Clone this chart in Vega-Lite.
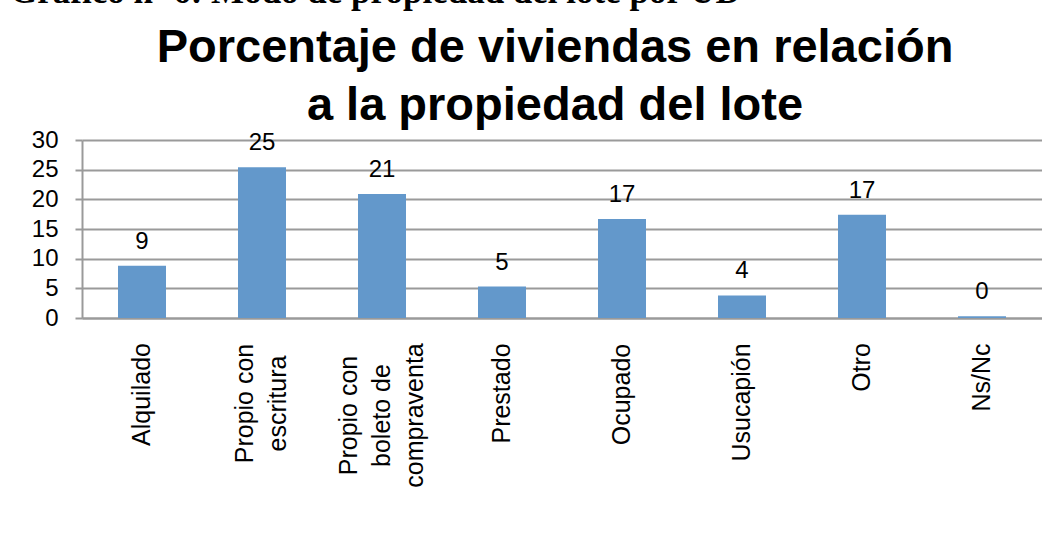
{
  "$schema": "https://vega.github.io/schema/vega-lite/v6.json",
  "background": "white",
  "padding": {"left": 10, "top": -25, "right": 0, "bottom": 0},
  "title": {
    "text": "Gráfico nº 6: Modo de propiedad del lote por UD",
    "anchor": "start",
    "frame": "group",
    "font": "Liberation Serif",
    "fontSize": 35,
    "fontWeight": "bold",
    "color": "black",
    "dx": -72,
    "offset": 14
  },
  "vconcat": [
    {
      "width": 960,
      "height": 178,
      "title": {
        "text": ["Porcentaje de viviendas en relación", "a la propiedad del lote"],
        "anchor": "middle",
        "frame": "group",
        "font": "Liberation Sans",
        "fontSize": 47,
        "fontWeight": "bold",
        "lineHeight": 58,
        "color": "black",
        "dx": -7,
        "offset": -2
      },
      "data": {
        "values": [
          {"categoria": "Alquilado", "porcentaje": 8.8},
          {"categoria": "Propio con escritura", "porcentaje": 25.4},
          {"categoria": "Propio con boleto de compraventa", "porcentaje": 20.9},
          {"categoria": "Prestado", "porcentaje": 5.3},
          {"categoria": "Ocupado", "porcentaje": 16.7},
          {"categoria": "Usucapión", "porcentaje": 3.8},
          {"categoria": "Otro", "porcentaje": 17.4},
          {"categoria": "Ns/Nc", "porcentaje": 0.3}
        ]
      },
      "encoding": {
        "x": {
          "field": "categoria",
          "type": "nominal",
          "sort": null,
          "scale": {"paddingInner": 0.6, "paddingOuter": 0.3},
          "axis": {
            "title": null,
            "labelAngle": -90,
            "labelAlign": "center",
            "labelBaseline": "middle",
            "labelFont": "Liberation Sans",
            "labelFontSize": 25,
            "labelColor": "black",
            "labelLineHeight": 33,
            "labelPadding": {
              "condition": [
                {"test": "datum.value == 'Alquilado'", "value": 76},
                {"test": "datum.value == 'Propio con escritura'", "value": 85},
                {"test": "datum.value == 'Propio con boleto de compraventa'", "value": 97},
                {"test": "datum.value == 'Prestado'", "value": 75},
                {"test": "datum.value == 'Ocupado'", "value": 76},
                {"test": "datum.value == 'Usucapión'", "value": 84},
                {"test": "datum.value == 'Otro'", "value": 49}
              ],
              "value": 59
            },
            "labelLimit": 0,
            "labelOverlap": false,
            "labelOffset": {
              "condition": [
                {"test": "datum.value == 'Propio con escritura'", "value": -17},
                {"test": "datum.value == 'Propio con boleto de compraventa'", "value": -33}
              ],
              "value": 0
            },
            "labelExpr": "datum.label == 'Propio con escritura' ? ['Propio con', 'escritura'] : datum.label == 'Propio con boleto de compraventa' ? ['Propio con', 'boleto de', 'compraventa'] : datum.label",
            "ticks": false,
            "domainColor": "#9a9a9a",
            "domainWidth": 2,
            "grid": false
          }
        },
        "y": {
          "field": "porcentaje",
          "type": "quantitative",
          "scale": {"domain": [0, 30], "nice": false},
          "axis": {
            "title": null,
            "values": [0, 5, 10, 15, 20, 25, 30],
            "labelFont": "Liberation Sans",
            "labelFontSize": 24,
            "labelColor": "black",
            "labelPadding": 17,
            "tickSize": 7,
            "tickColor": "#9a9a9a",
            "tickWidth": 2,
            "domainColor": "#9a9a9a",
            "domainWidth": 2,
            "grid": true,
            "gridColor": "#9a9a9a",
            "gridWidth": 2
          }
        }
      },
      "layer": [
        {"mark": {"type": "bar", "color": "#6398CB"}},
        {
          "mark": {
            "type": "text",
            "baseline": "alphabetic",
            "dy": -17,
            "font": "Liberation Sans",
            "fontSize": 24,
            "color": "black"
          },
          "encoding": {"text": {"field": "porcentaje", "type": "quantitative", "format": ".0f"}}
        }
      ]
    }
  ],
  "config": {"view": {"stroke": null}, "font": "Liberation Sans"}
}
